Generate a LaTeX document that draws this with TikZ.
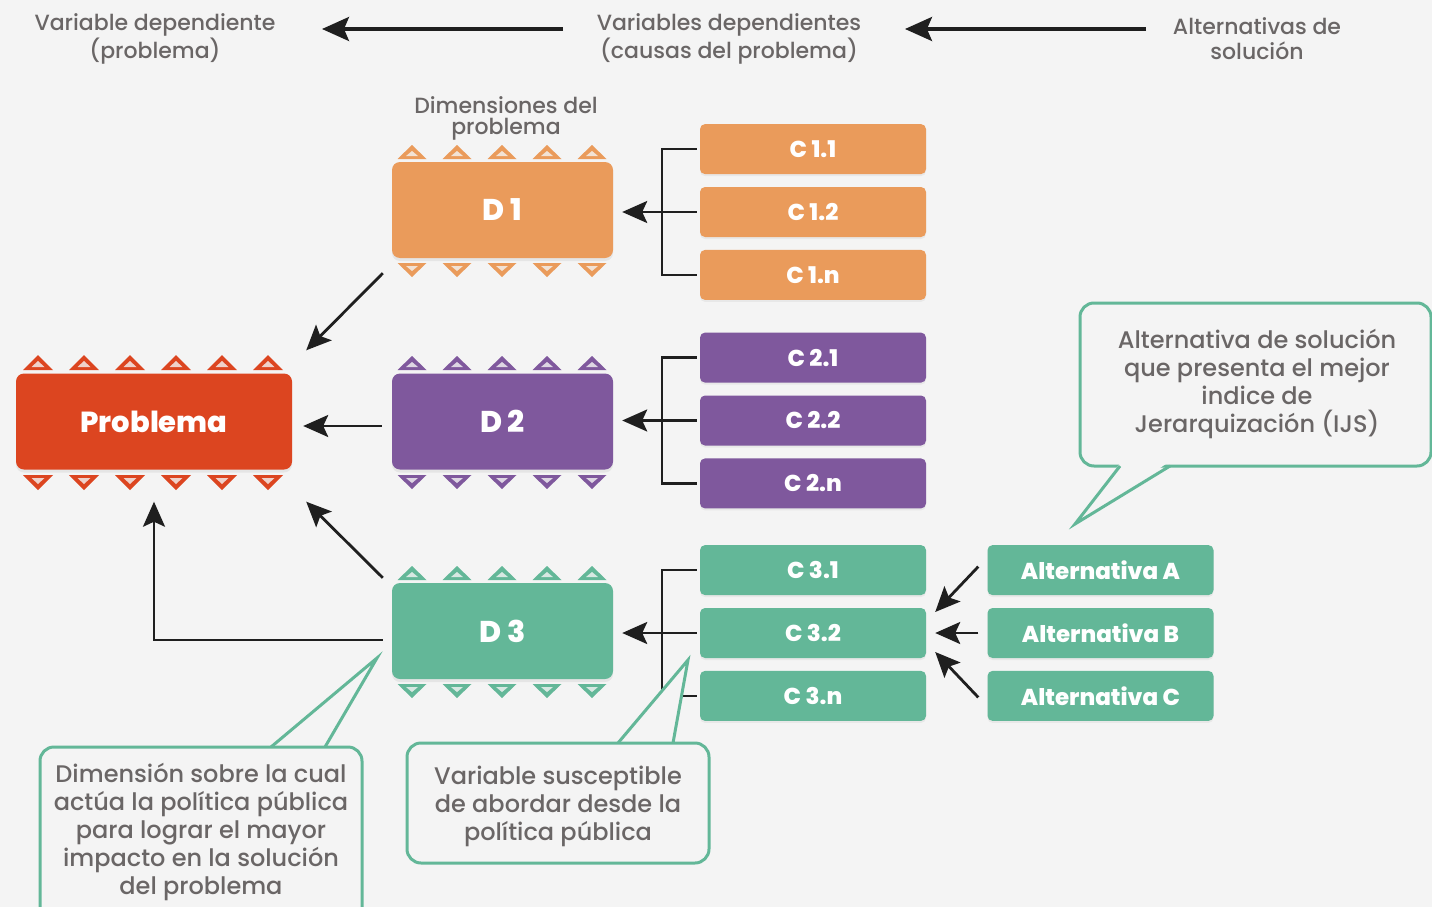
\documentclass[tikz,border=0pt]{standalone}
\usepackage{fontspec}
\setmainfont{Poppins}
\IfFontExistsTF{Poppins Medium}{\newfontfamily\medio{Poppins Medium}}{\newfontfamily\medio{Poppins}}
\IfFontExistsTF{Poppins ExtraBold}{\newfontfamily\negra{Poppins ExtraBold}}{\newfontfamily\negra{Poppins}[UprightFont=*-Bold]}
\usepackage{tikz}
\usetikzlibrary{arrows.meta,positioning,calc,shadows}

\definecolor{fondo}{HTML}{F4F4F4}
\definecolor{gristxt}{HTML}{6A6666}
\definecolor{rojo}{HTML}{DC4520}
\definecolor{naranja}{HTML}{EA9B5B}
\definecolor{morado}{HTML}{7F589D}
\definecolor{verde}{HTML}{63B798}

\tikzset{
  caja/.style={fill=#1, rounded corners=8pt, text=white, inner sep=0pt,
    font=\negra\fontsize{30}{30}\selectfont, minimum width=221pt, minimum height=96pt,
    drop shadow={shadow xshift=0pt, shadow yshift=-3pt, opacity=0.12}},
  causa/.style={fill=#1, rounded corners=5pt, text=white, inner sep=0pt,
    font=\negra\fontsize{23}{23}\selectfont, minimum width=226pt, minimum height=50pt,
    drop shadow={shadow xshift=0pt, shadow yshift=-2pt, opacity=0.10}},
  triang/.style={fill=#1},
  trianin/.style={fill=#1!20!fondo},
  nota/.style={text=gristxt, align=center, font=\medio\fontsize{22}{25}\selectfont},
  globotxt/.style={text=gristxt, align=center, font=\medio\fontsize{24}{28}\selectfont},
  globo/.style={draw=verde, line width=3pt, fill=fondo},
  brazo/.style={line width=2.5pt, draw=black!88},
  flecha/.style={-{Stealth[length=25pt,width=22pt,inset=5pt]}, line width=2.8pt, draw=black!88},
}

\begin{document}
\begin{tikzpicture}[x=1pt, y=-1pt, node distance=12.5pt]
\useasboundingbox (0,0) rectangle (1432,907);
\clip (0,0) rectangle (1432,907);
\fill[fondo] (0,0) rectangle (1432,907);

% encabezados
\node[nota] (vdep) at (155,39) {Variable dependiente\\(problema)};
\node[nota] (vdeps) at (729,39) {Variables dependientes\\(causas del problema)};
\node[nota] (alts) at (1257,39) {Alternativas de\\solución};
\draw[flecha, -{Stealth[length=27pt,width=24pt,inset=5pt]}, line width=3.2pt] ([xshift=-166pt,yshift=10pt]vdeps.center) -- ([xshift=167pt,yshift=10pt]vdep.center);
\draw[flecha, -{Stealth[length=27pt,width=24pt,inset=5pt]}, line width=3.2pt] ([xshift=-111pt,yshift=10pt]alts.center) -- ([xshift=176pt,yshift=10pt]vdeps.center);

\node[nota, font=\medio\fontsize{22}{21}\selectfont] (dimtit) at (506,118) {Dimensiones del\\problema};

% problema y dimensiones
\node[caja=rojo, minimum width=276pt, font=\negra\fontsize{29}{29}\selectfont] (prob) at (154,421.5) {Problema};
\node[caja=naranja] (d1) at (502.5,210) {D 1};
\node[caja=morado] (d2) at (502.5,421.5) {D 2};
\node[caja=verde] (d3) at (502.5,631) {D 3};

\foreach \col/\yt/\yb in {naranja/162/258, morado/373/470, verde/583/679}
  \foreach \x in {412,457,...,592}{
    \fill[triang=\col] (\x-14.5,\yt-3) -- (\x,\yt-17) -- (\x+14.5,\yt-3) -- cycle;
    \fill[trianin=\col] (\x-6,\yt-6) -- (\x,\yt-11) -- (\x+6,\yt-6) -- cycle;
    \fill[triang=\col] (\x-14.5,\yb+5) -- (\x,\yb+19) -- (\x+14.5,\yb+5) -- cycle;
    \fill[trianin=\col] (\x-6,\yb+8) -- (\x,\yb+13) -- (\x+6,\yb+8) -- cycle;
  }
\foreach \x in {38,84,...,268}{
  \fill[triang=rojo] (\x-15,370) -- (\x,355) -- (\x+15,370) -- cycle;
  \fill[trianin=rojo] (\x-6.5,367) -- (\x,361) -- (\x+6.5,367) -- cycle;
  \fill[triang=rojo] (\x-15,475) -- (\x,490) -- (\x+15,475) -- cycle;
  \fill[trianin=rojo] (\x-6.5,478) -- (\x,484) -- (\x+6.5,478) -- cycle;
}

% causas
\node[causa=naranja] (c12) at (813,212) {C 1.2};
\node[causa=naranja, above=of c12] (c11) {C 1.1};
\node[causa=naranja, below=of c12] (c1n) {C 1.n};
\node[causa=morado] (c22) at (813,420.5) {C 2.2};
\node[causa=morado, above=of c22] (c21) {C 2.1};
\node[causa=morado, below=of c22] (c2n) {C 2.n};
\node[causa=verde] (c32) at (813,633) {C 3.2};
\node[causa=verde, above=of c32] (c31) {C 3.1};
\node[causa=verde, below=of c32] (c3n) {C 3.n};

% alternativas
\node[causa=verde] (altb) at (1100.5,633) {Alternativa B};
\node[causa=verde, above=of altb] (alta) {Alternativa A};
\node[causa=verde, below=of altb] (altc) {Alternativa C};

\foreach \i in {1,2,3}{
  \draw[brazo] ([xshift=-3pt]c\i1.west) -- ++(-35,0) |- ([xshift=-3pt]c\i n.west);
  \draw[flecha] ([xshift=-3pt]c\i2.west) -- ($(d\i.east |- c\i2.west)+(9,0)$);
}

\draw[flecha] ([xshift=-9pt,yshift=3.5pt]alta.west) -- ([xshift=9pt,yshift=21pt]c32.east);
\draw[flecha] ([xshift=-9pt]altb.west) -- ([xshift=9pt]c32.east);
\draw[flecha] ([xshift=-9pt,yshift=-1.5pt]altc.west) -- ([xshift=9pt,yshift=-19pt]c32.east);

% hacia el problema
\draw[flecha] ([xshift=-9pt,yshift=-15pt]d1.south west) -- ([xshift=14pt,yshift=23pt]prob.north east);
\draw[flecha] ([xshift=-10pt,yshift=-4.5pt]d2.west) -- ([xshift=11pt,yshift=-4.5pt]prob.east);
\draw[flecha] ([xshift=-9pt,yshift=5pt]d3.north west) -- ([xshift=14pt,yshift=-32pt]prob.south east);
\draw[flecha] ([xshift=-9pt,yshift=-9pt]d3.west) -| ([yshift=-32pt]prob.south);

% globos
\draw[globo, rounded corners=14pt] (1080,303) rectangle (1431,466);
\fill[fondo] (1121,462) -- (1075,524) -- (1169,462) -- cycle;
\draw[globo, fill=none] (1120,466) -- (1075,524) -- (1170,466);
\draw[globo, rounded corners=14pt] (40,747) rectangle (362,925);
\fill[fondo] (272,743) -- (377,658) -- (324,743) -- cycle;
\draw[globo, fill=none] (271,747) -- (377,658) -- (325,747);
\draw[globo, rounded corners=14pt] (407,743) rectangle (709,863);
\fill[fondo] (619,739) -- (688,660) -- (672,739) -- cycle;
\draw[globo, fill=none] (618,743) -- (688,660) -- (673,743);

\node[globotxt] (ijs) at (1257,384) {Alternativa de solución\\que presenta el mejor\\indice de\\Jerarquización (IJS)};
\node[globotxt] (dimtxt) at (201,832) {Dimensión sobre la cual\\actúa la política pública\\para lograr el mayor\\impacto en la solución\\del problema};
\node[globotxt] (vartxt) at (558,806) {Variable susceptible\\de abordar desde la\\política pública};
\end{tikzpicture}
\end{document}
